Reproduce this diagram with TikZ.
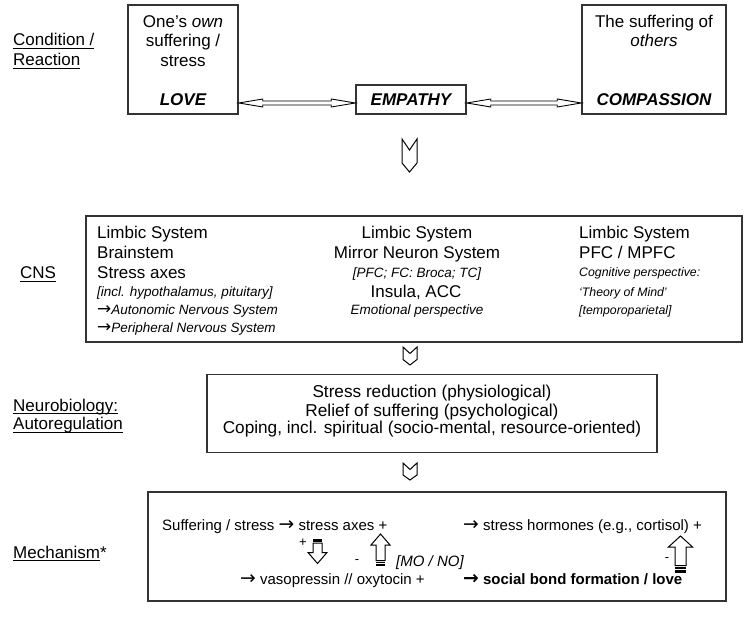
\documentclass[tikz,border=0pt]{standalone}
\usepackage{fontspec}
\setmainfont{Liberation Sans}
\newfontfamily\arrowfont{DejaVu Sans}[Scale=1.25]
\usetikzlibrary{calc}
\newcommand\ulx[1]{\setbox0\hbox{#1}\rlap{\rule[-3.3pt]{\wd0}{1.1pt}}\box0}
\newcommand\rarr{{\arrowfont →}}
\newcommand\hollowdbl[2]{%
  \draw[dblar] (#1) -- ($(#1)+(24,-4)$) -- ($(#1)+(24,-2)$) -- ($(#2)+(-24,-2)$)
    -- ($(#2)+(-24,-4)$) -- (#2) -- ($(#2)+(-24,4)$) -- ($(#2)+(-24,2)$)
    -- ($(#1)+(24,2)$) -- ($(#1)+(24,4)$) -- cycle;}
\begin{document}
\begin{tikzpicture}[x=1pt,y=-1pt,
  box/.style={draw=black!80, line width=1.5pt, inner sep=0pt},
  lab/.style={font=\fontsize{17}{20}\selectfont, inner sep=0pt, anchor=base west},
  t17/.style={font=\fontsize{17}{20}\selectfont, inner sep=0pt, anchor=base},
  t17w/.style={font=\fontsize{17}{20}\selectfont, inner sep=0pt, anchor=base west},
  bi/.style={font=\fontsize{17}{20}\selectfont\bfseries\itshape},
  iw/.style={font=\fontsize{13.5}{16}\selectfont\itshape, inner sep=0pt, anchor=base west},
  ic/.style={font=\fontsize{13.5}{16}\selectfont\itshape, inner sep=0pt, anchor=base},
  iw3/.style={font=\fontsize{12.3}{15}\selectfont\itshape, inner sep=0pt, anchor=base west},
  neutxt/.style={font=\fontsize{17.2}{20}\selectfont, inner sep=0pt, anchor=base},
  mt/.style={font=\fontsize{15}{18}\selectfont, inner sep=0pt, anchor=base west},
  mts/.style={font=\fontsize{13}{15}\selectfont, inner sep=0pt},
  dblar/.style={draw=black, line width=0.9pt, line join=miter},
  chevline/.style={draw=black, line width=1pt, line join=miter},
  blk/.style={draw=black, line width=1pt, fill=white, line join=miter},
  pics/chev/.style n args={4}{code={\draw[chevline] (-#1,0) -- (0,#2) -- (#1,0) -- (#1,#3) -- (0,#4) -- (-#1,#3) -- cycle;}}
]
\useasboundingbox (0,0) rectangle (750,639);

% ---- side labels
\node[lab] (lcond) at (13,46) {\ulx{Condition /}};
\node[lab] (lreac) at (13,66) {\ulx{Reaction}};
\node[lab] (lcns) at (20,279) {\ulx{CNS}};
\node[lab] (lneu1) at (13,411) {\ulx{Neurobiology:}};
\node[lab] (lneu2) at (13,429.5) {\ulx{Autoregulation}};
\node[lab] (lmech) at (13,558) {\ulx{Mechanism}*};

% ---- top row
\node[box, minimum width=110, minimum height=109] (love) at (183,59.5) {};
\node[t17] (love1) at (183,27.6) {One's \textit{own}};
\node[t17] (love2) at (183,47) {suffering /};
\node[t17] (love3) at (183,66.5) {stress};
\node[t17, bi] (love4) at (183,105.5) {LOVE};

\node[box, minimum width=110, minimum height=29, bi] (emp) at (411,99.5) {EMPATHY};

\node[box, minimum width=144, minimum height=109] (comp) at (654,59.5) {};
\node[t17] (comp1) at (654,27.6) {The suffering of};
\node[t17] (comp2) at (654,46.6) {\textit{others}};
\node[t17, bi] (comp4) at (654,105.5) {COMPASSION};

\coordinate (ay) at (0,103);
\coordinate (a1) at (love.east |- ay);
\coordinate (a2) at (emp.west |- ay);
\coordinate (a3) at (emp.east |- ay);
\coordinate (a4) at (comp.west |- ay);
\hollowdbl{a1}{a2}
\hollowdbl{a3}{a4}

% ---- chevrons
\pic at (409.5,139) {chev={7.5}{11}{24}{33}};
\pic at (410,347) {chev={7}{6.5}{12.5}{18}};
\pic at (410,463) {chev={7}{6.5}{12}{17}};

% ---- CNS box
\node[box, minimum width=656, minimum height=126] (cns) at (414,279) {};
\node[t17w] (c11) at (97,238.6) {Limbic System};
\node[t17w] (c12) at (97,258.6) {Brainstem};
\node[t17w] (c13) at (97,278.6) {Stress axes};
\node[iw] (c14) at (97,296.5) {[incl. hypothalamus, pituitary]};
\node[iw] (c15) at (97,314.5) {\rarr Autonomic Nervous System};
\node[iw] (c16) at (97,332.5) {\rarr Peripheral Nervous System};

\node[t17] (c21) at (417,238.6) {Limbic System};
\node[t17] (c22) at (417,258.6) {Mirror Neuron System};
\node[ic] (c23) at (417,277.5) {[PFC; FC: Broca; TC]};
\node[t17] (c24) at (416,297.6) {Insula, ACC};
\node[ic] (c25) at (417,314.5) {Emotional perspective};

\node[t17w] (c31) at (579,238.6) {Limbic System};
\node[t17w] (c32) at (579,258.6) {PFC / MPFC};
\node[iw3] (c33) at (579,276.3) {Cognitive perspective:};
\node[iw3] (c34) at (579,296.3) {{`}Theory of Mind'};
\node[iw3] (c35) at (579,314.3) {[temporoparietal]};

% ---- Neurobiology box
\node[box, minimum width=450, minimum height=78] (neu) at (432,413.5) {};
\node[neutxt] (n1) at (432,397.7) {Stress reduction (physiological)};
\node[neutxt] (n2) at (432,416.4) {Relief of suffering (psychological)};
\node[neutxt] (n3) at (432,433.8) {Coping, incl. spiritual (socio-mental, resource-oriented)};

% ---- Mechanism box
\node[box, minimum width=578, minimum height=109] (mech) at (437,546.5) {};
\node[mt] (m1) at (162,530) {Suffering / stress \rarr{} stress axes +};
\node[mt] (m2) at (463,530) {\rarr{} stress hormones (e.g., cortisol) +};
\node[mt] (m3) at (240,584) {\rarr{} vasopressin // oxytocin +};
\node[mt, font=\fontsize{15}{18}\selectfont\bfseries] (m4) at (463,584) {\rarr{} social bond formation / love};
\node[mts] (mplus) at (303,543) {+};
\node[mts] (mminus1) at (357,562) {-};
\node[mt, font=\fontsize{15}{18}\selectfont\itshape] (mmo) at (396,566) {[MO / NO]};
\node[mts] (mminus2) at (667,560) {-};

% striped block arrows
\draw[blk] (313,543) -- (313,552.5) -- (308,552.5) -- (317.5,563.5) -- (327,552.5) -- (322,552.5) -- (322,543) -- cycle;
\fill[black] (313,539) rectangle (322,541.5);

\draw[blk] (376,560.5) -- (376,545) -- (371,545) -- (380.5,534) -- (390,545) -- (385,545) -- (385,560.5) -- cycle;
\fill[black] (376,562) rectangle (385,563.3);
\fill[black] (376,564.3) rectangle (385,566);

\draw[blk] (675,565.5) -- (675,547) -- (668.5,547) -- (680.5,536) -- (692.5,547) -- (686,547) -- (686,565.5) -- cycle;
\fill[black] (675,567) rectangle (686,568.5);
\fill[black] (675,569.5) rectangle (686,573);
\end{tikzpicture}
\end{document}
